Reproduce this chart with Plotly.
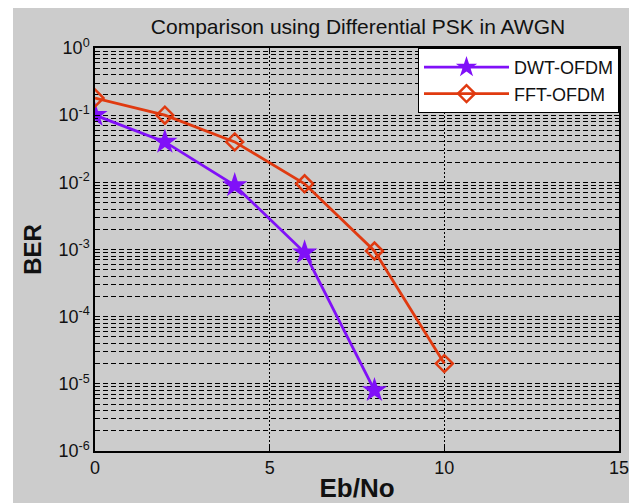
import plotly.graph_objects as go

ebno = [0, 2, 4, 6, 8]
dwt_ber = [0.1, 0.04, 0.009, 0.0009, 0.000008]
ebno_fft = [0, 2, 4, 6, 8, 10]
fft_ber = [0.18, 0.1, 0.04, 0.0095, 0.00095, 0.00002]

y_tickvals = [1e-6, 1e-5, 1e-4, 1e-3, 1e-2, 1e-1, 1e0]
y_ticktext = ["10<sup>-6</sup>", "10<sup>-5</sup>", "10<sup>-4</sup>", "10<sup>-3</sup>",
              "10<sup>-2</sup>", "10<sup>-1</sup>", "10<sup>0</sup>"]
x_tickvals = [0, 5, 10, 15]

purple = "#8010F8"
red = "#E03A10"

fig = go.Figure()
fig.add_trace(go.Scatter(
    x=ebno, y=dwt_ber, name="DWT-OFDM", mode="lines+markers",
    line=dict(color=purple, width=2.8),
    marker=dict(symbol="star", size=19, color=purple)))
fig.add_trace(go.Scatter(
    x=ebno_fft, y=fft_ber, name="FFT-OFDM", mode="lines+markers",
    line=dict(color=red, width=2.8),
    marker=dict(symbol="diamond-open", size=13, color=red, line=dict(width=2.5, color=red))))

# page body has an 8px default margin, so the figure is placed at (8, 8)
OFF = 8
W, H = 637 - OFF, 503 - OFF
L, T = 95 - OFF, 48 - OFF
R = W - (619 - OFF)
B = H - (451 - OFF)
pw, ph = W - L - R, H - T - B

def px_to_paper_x(px):
    return (px - OFF - L) / pw

def px_to_paper_y(py):
    return (H - B - (py - OFF)) / ph

fig.add_shape(type="rect", xref="paper", yref="paper", layer="below",
              x0=px_to_paper_x(13), x1=px_to_paper_x(W + 20),
              y0=px_to_paper_y(H + 20), y1=px_to_paper_y(OFF - 2),
              fillcolor="#cccccc", line=dict(width=0))

fig.update_layout(
    width=W, height=H,
    margin=dict(l=L, r=R, t=T, b=B, pad=0),
    paper_bgcolor="white", plot_bgcolor="white",
    font=dict(family="Liberation Sans, Arial, sans-serif", color="#111111"),
    title=dict(text="Comparison using Differential PSK in AWGN", x=px_to_paper_x(358), xref="paper",
               xanchor="center", y=1 - (27 - OFF) / H, yanchor="middle",
               font=dict(size=21, color="#111111")),
    showlegend=True,
    legend=dict(x=1, y=1, xanchor="right", yanchor="top", bgcolor="white",
                bordercolor="black", borderwidth=1, itemwidth=85,
                font=dict(size=18, color="#111111"), tracegroupgap=0),
    xaxis=dict(range=[0, 15], tickvals=x_tickvals, showline=True, linecolor="black", linewidth=1.5,
               mirror="ticks", ticks="inside", ticklen=5, tickcolor="black", automargin=False,
               showgrid=True, gridcolor="black", griddash="2px,2px", gridwidth=1, zeroline=False,
               tickfont=dict(size=18),
               title=dict(text="<b>Eb/No</b>", font=dict(size=26), standoff=11)),
    yaxis=dict(type="log", range=[-6, 0], tickvals=y_tickvals, ticktext=y_ticktext,
               showline=True, linecolor="black", linewidth=1.5, mirror="ticks", automargin=False,
               ticks="inside", ticklen=5, tickcolor="black",
               showgrid=True, gridcolor="black", griddash="5px,3px", gridwidth=1, zeroline=False,
               tickfont=dict(size=18),
               minor=dict(dtick="D1", ticks="inside", ticklen=3, tickcolor="black",
                          showgrid=True, gridcolor="black", griddash="5px,3px", gridwidth=1),
               title=dict(text="<b>BER</b>", font=dict(size=24), standoff=10)),
)

fig.write_html("out.html")
